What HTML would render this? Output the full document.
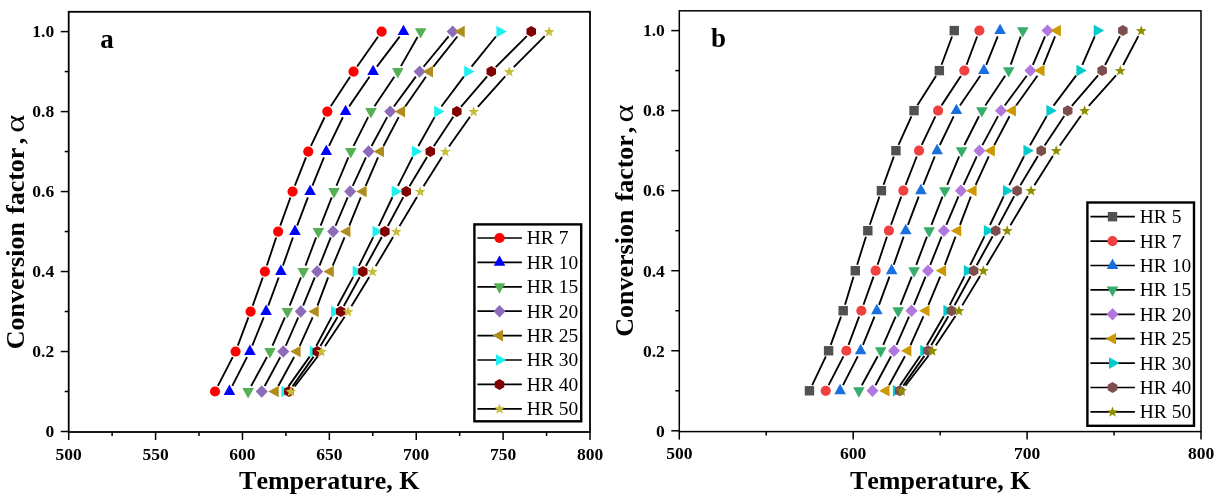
<!DOCTYPE html>
<html><head><meta charset="utf-8"><title>chart</title>
<style>html,body{margin:0;padding:0;background:#fff}svg{display:block;will-change:transform}text{font-family:"Liberation Serif",serif;font-kerning:none}</style>
</head><body>
<svg width="1217" height="502" viewBox="0 0 1217 502">
<rect width="1217" height="502" fill="#fff"/>
<path d="M377.99 36.76L357.16 66.43M350.08 76.86L330.76 106.31M324.6 117.27L310.97 145.88M305.96 157.43L294.87 185.7M290.43 197.49L280.27 225.62M276.15 237.53L266.87 265.56M262.77 277.47L252.72 305.6M248.39 317.43L237.82 345.62M232.72 357.12L217.9 385.91" stroke="#000" stroke-width="1.85" fill="none"/>
<circle cx="381.61" cy="31.6" r="5.1" fill="#ff0000"/>
<circle cx="353.54" cy="71.59" r="5.1" fill="#ff0000"/>
<circle cx="327.3" cy="111.58" r="5.1" fill="#ff0000"/>
<circle cx="308.26" cy="151.57" r="5.1" fill="#ff0000"/>
<circle cx="292.57" cy="191.56" r="5.1" fill="#ff0000"/>
<circle cx="278.13" cy="231.55" r="5.1" fill="#ff0000"/>
<circle cx="264.89" cy="271.54" r="5.1" fill="#ff0000"/>
<circle cx="250.6" cy="311.53" r="5.1" fill="#ff0000"/>
<circle cx="235.61" cy="351.52" r="5.1" fill="#ff0000"/>
<circle cx="215.02" cy="391.51" r="5.1" fill="#ff0000"/>
<path d="M399.67 36.61L376.89 66.58M369.51 76.78L349.16 106.39M342.86 117.25L329.04 145.9M323.94 157.41L312.48 185.72M307.88 197.45L297.2 225.66M292.88 237.49L282.97 265.6M278.69 277.45L268.27 305.62M263.72 317.37L252.26 345.68M247.02 357.13L232.28 385.9" stroke="#000" stroke-width="1.85" fill="none"/>
<polygon points="403.49,24.67 409.29,35.07 397.69,35.07" fill="#0000ff"/>
<polygon points="373.08,64.66 378.88,75.06 367.28,75.06" fill="#0000ff"/>
<polygon points="345.59,104.65 351.39,115.05 339.79,115.05" fill="#0000ff"/>
<polygon points="326.3,144.64 332.1,155.04 320.5,155.04" fill="#0000ff"/>
<polygon points="310.11,184.63 315.91,195.03 304.31,195.03" fill="#0000ff"/>
<polygon points="294.97,224.62 300.77,235.02 289.17,235.02" fill="#0000ff"/>
<polygon points="280.88,264.61 286.68,275.01 275.08,275.01" fill="#0000ff"/>
<polygon points="266.09,304.6 271.89,315 260.29,315" fill="#0000ff"/>
<polygon points="249.9,344.59 255.7,354.99 244.1,354.99" fill="#0000ff"/>
<polygon points="229.41,384.58 235.21,394.98 223.61,394.98" fill="#0000ff"/>
<path d="M417.54 37.07L400.94 66.12M394.3 76.82L374.49 106.35M368.14 117.2L353.63 145.95M348.35 157.38L336.44 185.75M331.71 197.43L320.65 225.68M316.13 237.44L305.49 265.65M300.94 277.39L289.7 305.68M284.86 317.31L272.5 345.74M266.96 357.05L251.12 385.98" stroke="#000" stroke-width="1.85" fill="none"/>
<polygon points="420.67,38.53 426.47,28.13 414.87,28.13" fill="#55b055"/>
<polygon points="397.81,78.52 403.61,68.12 392.01,68.12" fill="#55b055"/>
<polygon points="370.98,118.51 376.78,108.11 365.18,108.11" fill="#55b055"/>
<polygon points="350.79,158.5 356.59,148.1 344.99,148.1" fill="#55b055"/>
<polygon points="334,198.49 339.8,188.09 328.2,188.09" fill="#55b055"/>
<polygon points="318.36,238.48 324.16,228.08 312.56,228.08" fill="#55b055"/>
<polygon points="303.27,278.47 309.07,268.07 297.47,268.07" fill="#55b055"/>
<polygon points="287.38,318.46 293.18,308.06 281.58,308.06" fill="#55b055"/>
<polygon points="269.99,358.45 275.79,348.05 264.19,348.05" fill="#55b055"/>
<polygon points="248.1,398.44 253.9,388.04 242.3,388.04" fill="#55b055"/>
<path d="M448.62 36.45L423.57 66.74M415.82 76.67L393.9 106.5M387.18 117.12L371.57 146.03M365.94 157.29L352.78 185.84M347.67 197.36L335.57 225.75M330.77 237.4L319.49 265.69M314.77 277.37L303.16 305.7M298.24 317.3L285.8 345.75M280.29 357.07L264.73 385.96" stroke="#000" stroke-width="1.85" fill="none"/>
<polygon points="452.64,25.4 458.64,31.6 452.64,37.8 446.64,31.6" fill="#8c6bb8"/>
<polygon points="419.55,65.39 425.55,71.59 419.55,77.79 413.55,71.59" fill="#8c6bb8"/>
<polygon points="390.17,105.38 396.17,111.58 390.17,117.78 384.17,111.58" fill="#8c6bb8"/>
<polygon points="368.58,145.37 374.58,151.57 368.58,157.77 362.58,151.57" fill="#8c6bb8"/>
<polygon points="350.14,185.36 356.14,191.56 350.14,197.76 344.14,191.56" fill="#8c6bb8"/>
<polygon points="333.1,225.35 339.1,231.55 333.1,237.75 327.1,231.55" fill="#8c6bb8"/>
<polygon points="317.16,265.34 323.16,271.54 317.16,277.74 311.16,271.54" fill="#8c6bb8"/>
<polygon points="300.77,305.33 306.77,311.53 300.77,317.73 294.77,311.53" fill="#8c6bb8"/>
<polygon points="283.28,345.32 289.28,351.52 283.28,357.72 277.28,351.52" fill="#8c6bb8"/>
<polygon points="261.74,385.31 267.74,391.51 261.74,397.71 255.74,391.51" fill="#8c6bb8"/>
<path d="M457.36 36.53L433.45 66.66M425.93 76.76L405.24 106.41M398.7 117.15L383.48 146M378.03 157.35L365.66 185.78M360.78 197.4L349.31 225.71M344.53 237.37L332.77 265.72M328.13 277.43L317.48 305.64M312.66 317.27L299.75 345.78M294.13 357.05L278.29 385.98" stroke="#000" stroke-width="1.85" fill="none"/>
<polygon points="454.34,31.6 464.74,25.8 464.74,37.4" fill="#b08c1e"/>
<polygon points="422.6,71.59 433,65.79 433,77.39" fill="#b08c1e"/>
<polygon points="394.7,111.58 405.1,105.78 405.1,117.38" fill="#b08c1e"/>
<polygon points="373.61,151.57 384.01,145.77 384.01,157.37" fill="#b08c1e"/>
<polygon points="356.21,191.56 366.61,185.76 366.61,197.36" fill="#b08c1e"/>
<polygon points="340.01,231.55 350.41,225.75 350.41,237.35" fill="#b08c1e"/>
<polygon points="323.42,271.54 333.82,265.74 333.82,277.34" fill="#b08c1e"/>
<polygon points="308.32,311.53 318.72,305.73 318.72,317.33" fill="#b08c1e"/>
<polygon points="290.22,351.52 300.62,345.72 300.62,357.32" fill="#b08c1e"/>
<polygon points="268.33,391.51 278.73,385.71 278.73,397.31" fill="#b08c1e"/>
<path d="M495.92 36.5L471.58 66.69M463.84 76.63L441.41 106.54M434.56 117.08L418.4 146.07M412.49 157.19L397.98 185.94M392.42 197.25L378.76 225.86M373.23 237.19L358.95 265.9M353.15 277.08L337.54 305.99M331.6 317.1L316.3 345.95M309.7 356.65L288.51 386.38" stroke="#000" stroke-width="1.85" fill="none"/>
<polygon points="506.81,31.6 496.41,25.8 496.41,37.4" fill="#1ef0f0"/>
<polygon points="474.56,71.59 464.16,65.79 464.16,77.39" fill="#1ef0f0"/>
<polygon points="444.56,111.58 434.16,105.78 434.16,117.38" fill="#1ef0f0"/>
<polygon points="422.27,151.57 411.87,145.77 411.87,157.37" fill="#1ef0f0"/>
<polygon points="402.07,191.56 391.67,185.76 391.67,197.36" fill="#1ef0f0"/>
<polygon points="382.97,231.55 372.57,225.75 372.57,237.35" fill="#1ef0f0"/>
<polygon points="363.08,271.54 352.68,265.74 352.68,277.34" fill="#1ef0f0"/>
<polygon points="341.48,311.53 331.08,305.73 331.08,317.33" fill="#1ef0f0"/>
<polygon points="320.29,351.52 309.89,345.72 309.89,357.32" fill="#1ef0f0"/>
<polygon points="291.79,391.51 281.39,385.71 281.39,397.31" fill="#1ef0f0"/>
<path d="M526.81 36.05L495.72 67.14M487.15 76.36L460.94 106.81M453.35 116.83L433.78 146.32M427.05 156.97L409.5 186.16M403.29 197.12L387.84 225.99M381.83 237.07L365.87 266.02M359.79 277.05L343.79 306.02M337.56 316.96L320.45 346.09M313.61 356.66L292.52 386.37" stroke="#000" stroke-width="1.85" fill="none"/>
<polygon points="531.27,26.1 536.03,28.85 536.03,34.35 531.27,37.1 526.5,34.35 526.5,28.85" fill="#800000"/>
<polygon points="491.26,66.09 496.02,68.84 496.02,74.34 491.26,77.09 486.5,74.34 486.5,68.84" fill="#800000"/>
<polygon points="456.83,106.08 461.59,108.83 461.59,114.33 456.83,117.08 452.07,114.33 452.07,108.83" fill="#800000"/>
<polygon points="430.3,146.07 435.06,148.82 435.06,154.32 430.3,157.07 425.53,154.32 425.53,148.82" fill="#800000"/>
<polygon points="406.26,186.06 411.02,188.81 411.02,194.31 406.26,197.06 401.5,194.31 401.5,188.81" fill="#800000"/>
<polygon points="384.87,226.05 389.63,228.8 389.63,234.3 384.87,237.05 380.11,234.3 380.11,228.8" fill="#800000"/>
<polygon points="362.83,266.04 367.6,268.79 367.6,274.29 362.83,277.04 358.07,274.29 358.07,268.79" fill="#800000"/>
<polygon points="340.75,306.03 345.51,308.78 345.51,314.28 340.75,317.03 335.98,314.28 335.98,308.78" fill="#800000"/>
<polygon points="317.26,346.02 322.02,348.77 322.02,354.27 317.26,357.02 312.5,354.27 312.5,348.77" fill="#800000"/>
<polygon points="288.88,386.01 293.64,388.76 293.64,394.26 288.88,397.01 284.11,394.26 284.11,388.76" fill="#800000"/>
<path d="M544.7 36.07L513.79 67.12M505.16 76.29L477.87 106.88M470.03 116.72L448.98 146.43M441.98 156.9L423.55 186.23M416.97 196.97L399.55 226.14M393.09 236.96L375.75 266.13M369.25 276.92L351.42 306.15M344.64 316.77L324.95 346.28M317.63 356.52L294.7 386.51" stroke="#000" stroke-width="1.85" fill="none"/>
<polygon points="549.15,26.2 550.56,29.96 554.57,30.14 551.43,32.64 552.5,36.51 549.15,34.29 545.8,36.51 546.87,32.64 543.73,30.14 547.74,29.96" fill="#c8be3c"/>
<polygon points="509.35,66.19 510.76,69.95 514.77,70.13 511.63,72.63 512.7,76.5 509.35,74.28 506,76.5 507.07,72.63 503.93,70.13 507.94,69.95" fill="#c8be3c"/>
<polygon points="473.67,106.18 475.08,109.94 479.09,110.12 475.95,112.62 477.02,116.49 473.67,114.27 470.32,116.49 471.39,112.62 468.25,110.12 472.26,109.94" fill="#c8be3c"/>
<polygon points="445.34,146.17 446.74,149.93 450.76,150.11 447.61,152.61 448.69,156.48 445.34,154.26 441.99,156.48 443.06,152.61 439.92,150.11 443.93,149.93" fill="#c8be3c"/>
<polygon points="420.2,186.16 421.61,189.92 425.62,190.1 422.48,192.6 423.55,196.47 420.2,194.25 416.85,196.47 417.92,192.6 414.78,190.1 418.79,189.92" fill="#c8be3c"/>
<polygon points="396.31,226.15 397.72,229.91 401.74,230.09 398.59,232.59 399.67,236.46 396.31,234.24 392.96,236.46 394.04,232.59 390.89,230.09 394.91,229.91" fill="#c8be3c"/>
<polygon points="372.53,266.14 373.94,269.9 377.95,270.08 374.8,272.58 375.88,276.45 372.53,274.23 369.18,276.45 370.25,272.58 367.11,270.08 371.12,269.9" fill="#c8be3c"/>
<polygon points="348.14,306.13 349.55,309.89 353.56,310.07 350.42,312.57 351.49,316.44 348.14,314.22 344.79,316.44 345.87,312.57 342.72,310.07 346.73,309.89" fill="#c8be3c"/>
<polygon points="321.46,346.12 322.86,349.88 326.88,350.06 323.73,352.56 324.81,356.43 321.46,354.21 318.11,356.43 319.18,352.56 316.04,350.06 320.05,349.88" fill="#c8be3c"/>
<polygon points="290.87,386.11 292.28,389.87 296.3,390.05 293.15,392.55 294.22,396.42 290.87,394.2 287.52,396.42 288.6,392.55 285.45,390.05 289.47,389.87" fill="#c8be3c"/>
<rect x="68.7" y="11.8" width="521.3" height="420.2" fill="none" stroke="#000" stroke-width="1.8"/>
<g stroke="#000" stroke-width="1.5">
<path d="M60.7 431.5H68.7"/>
<path d="M64.7 391.51H68.7"/>
<path d="M60.7 351.52H68.7"/>
<path d="M64.7 311.53H68.7"/>
<path d="M60.7 271.54H68.7"/>
<path d="M64.7 231.55H68.7"/>
<path d="M60.7 191.56H68.7"/>
<path d="M64.7 151.57H68.7"/>
<path d="M60.7 111.58H68.7"/>
<path d="M64.7 71.59H68.7"/>
<path d="M60.7 31.6H68.7"/>
<path d="M68.7 432V440"/>
<path d="M155.58 432V440"/>
<path d="M242.47 432V440"/>
<path d="M329.35 432V440"/>
<path d="M416.23 432V440"/>
<path d="M503.12 432V440"/>
<path d="M590 432V440"/>
<path d="M112.14 432V436"/>
<path d="M199.02 432V436"/>
<path d="M285.91 432V436"/>
<path d="M372.79 432V436"/>
<path d="M459.67 432V436"/>
<path d="M546.56 432V436"/>
</g>
<g font-family="'Liberation Serif', serif" font-weight="bold" font-size="17.5" fill="#000">
<text x="54.2" y="437.3" text-anchor="end">0</text>
<text x="54.2" y="357.32" text-anchor="end">0.2</text>
<text x="54.2" y="277.34" text-anchor="end">0.4</text>
<text x="54.2" y="197.36" text-anchor="end">0.6</text>
<text x="54.2" y="117.38" text-anchor="end">0.8</text>
<text x="54.2" y="37.4" text-anchor="end">1.0</text>
<text x="68.7" y="459.6" text-anchor="middle">500</text>
<text x="155.58" y="459.6" text-anchor="middle">550</text>
<text x="242.47" y="459.6" text-anchor="middle">600</text>
<text x="329.35" y="459.6" text-anchor="middle">650</text>
<text x="416.23" y="459.6" text-anchor="middle">700</text>
<text x="503.12" y="459.6" text-anchor="middle">750</text>
<text x="590" y="459.6" text-anchor="middle">800</text>
</g>
<text x="329.35" y="489.3" text-anchor="middle" font-family="'Liberation Serif', serif" font-weight="bold" font-size="26" fill="#000">Temperature, K</text>
<g transform="translate(24.2 349.2) rotate(-90)" font-family="'Liberation Serif', serif" font-weight="bold" font-size="26" fill="#000">
<text x="0" y="0">Conversion</text>
<text x="135.2" y="0">factor</text>
<text x="204.9" y="0">,</text>
<text transform="translate(216.4 0) scale(1.27 1)" x="0" y="0" font-weight="normal" font-size="27">α</text>
</g>
<text x="100.3" y="47.6" font-family="'Liberation Serif', serif" font-weight="bold" font-size="27" fill="#000">a</text>
<rect x="474.4" y="224.4" width="106.8" height="196.9" fill="#fff" stroke="#000" stroke-width="2.4"/>
<path d="M477.4 238H521.9" stroke="#000" stroke-width="1.7"/>
<circle cx="499.5" cy="238" r="5.1" fill="#ff0000"/>
<text transform="translate(526.8 244.4) scale(1.025 1)" font-family="'Liberation Serif', serif" font-size="19" fill="#000">HR 7</text>
<path d="M477.4 262.4H521.9" stroke="#000" stroke-width="1.7"/>
<polygon points="499.5,255.47 505.3,265.87 493.7,265.87" fill="#0000ff"/>
<text transform="translate(526.8 268.8) scale(1.025 1)" font-family="'Liberation Serif', serif" font-size="19" fill="#000">HR 10</text>
<path d="M477.4 286.8H521.9" stroke="#000" stroke-width="1.7"/>
<polygon points="499.5,293.73 505.3,283.33 493.7,283.33" fill="#55b055"/>
<text transform="translate(526.8 293.2) scale(1.025 1)" font-family="'Liberation Serif', serif" font-size="19" fill="#000">HR 15</text>
<path d="M477.4 311.2H521.9" stroke="#000" stroke-width="1.7"/>
<polygon points="499.5,305 505.5,311.2 499.5,317.4 493.5,311.2" fill="#8c6bb8"/>
<text transform="translate(526.8 317.6) scale(1.025 1)" font-family="'Liberation Serif', serif" font-size="19" fill="#000">HR 20</text>
<path d="M477.4 335.6H521.9" stroke="#000" stroke-width="1.7"/>
<polygon points="492.57,335.6 502.97,329.8 502.97,341.4" fill="#b08c1e"/>
<text transform="translate(526.8 342) scale(1.025 1)" font-family="'Liberation Serif', serif" font-size="19" fill="#000">HR 25</text>
<path d="M477.4 360H521.9" stroke="#000" stroke-width="1.7"/>
<polygon points="506.43,360 496.03,354.2 496.03,365.8" fill="#1ef0f0"/>
<text transform="translate(526.8 366.4) scale(1.025 1)" font-family="'Liberation Serif', serif" font-size="19" fill="#000">HR 30</text>
<path d="M477.4 384.4H521.9" stroke="#000" stroke-width="1.7"/>
<polygon points="499.5,378.9 504.26,381.65 504.26,387.15 499.5,389.9 494.74,387.15 494.74,381.65" fill="#800000"/>
<text transform="translate(526.8 390.8) scale(1.025 1)" font-family="'Liberation Serif', serif" font-size="19" fill="#000">HR 40</text>
<path d="M477.4 408.8H521.9" stroke="#000" stroke-width="1.7"/>
<polygon points="499.5,403.4 500.91,407.16 504.92,407.34 501.78,409.84 502.85,413.71 499.5,411.49 496.15,413.71 497.22,409.84 494.08,407.34 498.09,407.16" fill="#c8be3c"/>
<text transform="translate(526.8 415.2) scale(1.025 1)" font-family="'Liberation Serif', serif" font-size="19" fill="#000">HR 50</text>
<path d="M952.06 36.5L941.55 64.72M935.98 75.94L917.4 105.32M911.44 116.38L898.52 144.92M893.78 156.58L883.56 184.76M879.39 196.64L869.84 224.74M865.93 236.71L857.18 264.71M853.48 276.75L845.02 304.71M841.03 316.66L830.75 344.84M825.87 356.45L812.19 385.09" stroke="#000" stroke-width="1.85" fill="none"/>
<rect x="949.56" y="25.9" width="9.4" height="9.4" fill="#515151"/>
<rect x="934.65" y="65.92" width="9.4" height="9.4" fill="#515151"/>
<rect x="909.33" y="105.94" width="9.4" height="9.4" fill="#515151"/>
<rect x="891.22" y="145.96" width="9.4" height="9.4" fill="#515151"/>
<rect x="876.72" y="185.98" width="9.4" height="9.4" fill="#515151"/>
<rect x="863.11" y="226" width="9.4" height="9.4" fill="#515151"/>
<rect x="850.6" y="266.02" width="9.4" height="9.4" fill="#515151"/>
<rect x="838.49" y="306.04" width="9.4" height="9.4" fill="#515151"/>
<rect x="823.89" y="346.06" width="9.4" height="9.4" fill="#515151"/>
<rect x="804.77" y="386.08" width="9.4" height="9.4" fill="#515151"/>
<path d="M977.16 36.5L966.57 64.72M960.9 75.89L941.56 105.37M935.39 116.33L921.76 144.97M916.75 156.52L905.65 184.82M901.21 196.61L891.03 224.77M886.91 236.68L877.62 264.74M873.52 276.65L863.46 304.81M859.13 316.64L848.55 344.86M843.45 356.36L828.61 385.18" stroke="#000" stroke-width="1.85" fill="none"/>
<circle cx="979.37" cy="30.6" r="5.1" fill="#f14040"/>
<circle cx="964.36" cy="70.62" r="5.1" fill="#f14040"/>
<circle cx="938.1" cy="110.64" r="5.1" fill="#f14040"/>
<circle cx="919.05" cy="150.66" r="5.1" fill="#f14040"/>
<circle cx="903.35" cy="190.68" r="5.1" fill="#f14040"/>
<circle cx="888.89" cy="230.7" r="5.1" fill="#f14040"/>
<circle cx="875.64" cy="270.72" r="5.1" fill="#f14040"/>
<circle cx="861.34" cy="310.74" r="5.1" fill="#f14040"/>
<circle cx="846.33" cy="350.76" r="5.1" fill="#f14040"/>
<circle cx="825.73" cy="390.78" r="5.1" fill="#f14040"/>
<path d="M997.72 36.44L986.27 64.78M980.34 75.81L959.97 105.45M953.67 116.31L939.84 144.99M934.74 156.5L923.26 184.84M918.67 196.57L907.98 224.81M903.65 236.64L893.74 264.78M889.46 276.63L879.03 304.83M874.48 316.58L863 344.92M857.76 356.37L843.01 385.17" stroke="#000" stroke-width="1.85" fill="none"/>
<polygon points="1000.08,23.67 1005.88,34.07 994.28,34.07" fill="#1a6fdf"/>
<polygon points="983.91,63.69 989.71,74.09 978.11,74.09" fill="#1a6fdf"/>
<polygon points="956.41,103.71 962.21,114.11 950.61,114.11" fill="#1a6fdf"/>
<polygon points="937.1,143.73 942.9,154.13 931.3,154.13" fill="#1a6fdf"/>
<polygon points="920.9,183.75 926.7,194.15 915.1,194.15" fill="#1a6fdf"/>
<polygon points="905.75,223.77 911.55,234.17 899.95,234.17" fill="#1a6fdf"/>
<polygon points="891.64,263.79 897.44,274.19 885.84,274.19" fill="#1a6fdf"/>
<polygon points="876.84,303.81 882.64,314.21 871.04,314.21" fill="#1a6fdf"/>
<polygon points="860.64,343.83 866.44,354.23 854.84,354.23" fill="#1a6fdf"/>
<polygon points="840.13,383.85 845.93,394.25 834.33,394.25" fill="#1a6fdf"/>
<path d="M1020.7 36.54L1010.76 64.68M1005.16 75.85L985.32 105.41M978.97 116.26L964.45 145.04M959.17 156.47L947.24 184.87M942.51 196.55L931.45 224.83M926.93 236.59L916.27 264.83M911.72 276.57L900.47 304.89M895.63 316.52L883.25 344.98M877.72 356.29L861.86 385.25" stroke="#000" stroke-width="1.85" fill="none"/>
<polygon points="1022.8,37.53 1028.6,27.13 1017,27.13" fill="#37ad6b"/>
<polygon points="1008.67,77.55 1014.47,67.15 1002.87,67.15" fill="#37ad6b"/>
<polygon points="981.81,117.57 987.61,107.17 976.01,107.17" fill="#37ad6b"/>
<polygon points="961.61,157.59 967.41,147.19 955.81,147.19" fill="#37ad6b"/>
<polygon points="944.8,197.61 950.6,187.21 939,187.21" fill="#37ad6b"/>
<polygon points="929.15,237.63 934.95,227.23 923.35,227.23" fill="#37ad6b"/>
<polygon points="914.05,277.65 919.85,267.25 908.25,267.25" fill="#37ad6b"/>
<polygon points="898.14,317.67 903.94,307.27 892.34,307.27" fill="#37ad6b"/>
<polygon points="880.74,357.69 886.54,347.29 874.94,347.29" fill="#37ad6b"/>
<polygon points="858.84,397.71 864.64,387.31 853.04,387.31" fill="#37ad6b"/>
<path d="M1045.04 36.39L1032.9 64.83M1026.69 75.7L1004.75 105.56M998.02 116.18L982.4 145.12M976.77 156.38L963.59 184.96M958.49 196.48L946.37 224.9M941.57 236.55L930.28 264.87M925.56 276.55L913.94 304.91M909.02 316.51L896.57 344.99M891.06 356.31L875.48 385.23" stroke="#000" stroke-width="1.85" fill="none"/>
<polygon points="1047.51,24.4 1053.51,30.6 1047.51,36.8 1041.51,30.6" fill="#b177de"/>
<polygon points="1030.42,64.42 1036.42,70.62 1030.42,76.82 1024.42,70.62" fill="#b177de"/>
<polygon points="1001.01,104.44 1007.01,110.64 1001.01,116.84 995.01,110.64" fill="#b177de"/>
<polygon points="979.41,144.46 985.41,150.66 979.41,156.86 973.41,150.66" fill="#b177de"/>
<polygon points="960.96,184.48 966.96,190.68 960.96,196.88 954.96,190.68" fill="#b177de"/>
<polygon points="943.9,224.5 949.9,230.7 943.9,236.9 937.9,230.7" fill="#b177de"/>
<polygon points="927.95,264.52 933.95,270.72 927.95,276.92 921.95,270.72" fill="#b177de"/>
<polygon points="911.55,304.54 917.55,310.74 911.55,316.94 905.55,310.74" fill="#b177de"/>
<polygon points="894.04,344.56 900.04,350.76 894.04,356.96 888.04,350.76" fill="#b177de"/>
<polygon points="872.49,384.58 878.49,390.78 872.49,396.98 866.49,390.78" fill="#b177de"/>
<path d="M1055.04 36.43L1043.49 64.79M1037.44 75.74L1016.16 105.52M1009.55 116.21L994.32 145.09M988.76 156.39L975.69 184.95M970.82 196.56L960.01 224.82M955.53 236.59L944.88 264.83M940.24 276.54L928.46 304.92M923.44 316.48L910.53 345.02M904.91 356.29L889.04 385.25" stroke="#000" stroke-width="1.85" fill="none"/>
<polygon points="1050.48,30.6 1060.88,24.8 1060.88,36.4" fill="#cc9900"/>
<polygon points="1034.17,70.62 1044.57,64.82 1044.57,76.42" fill="#cc9900"/>
<polygon points="1005.56,110.64 1015.96,104.84 1015.96,116.44" fill="#cc9900"/>
<polygon points="984.45,150.66 994.85,144.86 994.85,156.46" fill="#cc9900"/>
<polygon points="966.14,190.68 976.54,184.88 976.54,196.48" fill="#cc9900"/>
<polygon points="950.83,230.7 961.23,224.9 961.23,236.5" fill="#cc9900"/>
<polygon points="935.72,270.72 946.12,264.92 946.12,276.52" fill="#cc9900"/>
<polygon points="919.11,310.74 929.51,304.94 929.51,316.54" fill="#cc9900"/>
<polygon points="901,350.76 911.4,344.96 911.4,356.56" fill="#cc9900"/>
<polygon points="879.09,390.78 889.49,384.98 889.49,396.58" fill="#cc9900"/>
<path d="M1094.73 36.38L1082.34 64.84M1076.05 75.66L1053.59 105.6M1046.68 116.11L1030.03 145.19M1024.03 156.27L1009.26 185.07M1003.67 196.37L989.99 225.01M984.47 236.34L970.17 265.08M964.49 276.33L949.73 305.13M943.7 316.2L926.89 345.3M920.19 355.96L899.98 385.58" stroke="#000" stroke-width="1.85" fill="none"/>
<polygon points="1104.17,30.6 1093.77,24.8 1093.77,36.4" fill="#00cbcc"/>
<polygon points="1086.76,70.62 1076.36,64.82 1076.36,76.42" fill="#00cbcc"/>
<polygon points="1056.75,110.64 1046.35,104.84 1046.35,116.44" fill="#00cbcc"/>
<polygon points="1033.83,150.66 1023.43,144.86 1023.43,156.46" fill="#00cbcc"/>
<polygon points="1013.32,190.68 1002.92,184.88 1002.92,196.48" fill="#00cbcc"/>
<polygon points="994.21,230.7 983.81,224.9 983.81,236.5" fill="#00cbcc"/>
<polygon points="974.3,270.72 963.9,264.92 963.9,276.52" fill="#00cbcc"/>
<polygon points="953.79,310.74 943.39,304.94 943.39,316.54" fill="#00cbcc"/>
<polygon points="930.67,350.76 920.27,344.96 920.27,356.56" fill="#00cbcc"/>
<polygon points="903.36,390.78 892.96,384.98 892.96,396.58" fill="#00cbcc"/>
<path d="M1119.96 36.2L1105.08 65.02M1098.07 75.39L1071.84 105.87M1064.24 115.89L1044.66 145.41M1037.93 156.06L1020.36 185.28M1014.15 196.24L998.68 225.14M992.67 236.22L976.7 265.2M970.61 276.23L954.6 305.23M948.36 316.17L931.24 345.33M924.4 355.9L903.29 385.64" stroke="#000" stroke-width="1.85" fill="none"/>
<polygon points="1122.86,25.1 1127.62,27.85 1127.62,33.35 1122.86,36.1 1118.09,33.35 1118.09,27.85" fill="#7d4e4e"/>
<polygon points="1102.19,65.12 1106.95,67.87 1106.95,73.37 1102.19,76.12 1097.42,73.37 1097.42,67.87" fill="#7d4e4e"/>
<polygon points="1067.73,105.14 1072.49,107.89 1072.49,113.39 1067.73,116.14 1062.97,113.39 1062.97,107.89" fill="#7d4e4e"/>
<polygon points="1041.17,145.16 1045.94,147.91 1045.94,153.41 1041.17,156.16 1036.41,153.41 1036.41,147.91" fill="#7d4e4e"/>
<polygon points="1017.12,185.18 1021.88,187.93 1021.88,193.43 1017.12,196.18 1012.35,193.43 1012.35,187.93" fill="#7d4e4e"/>
<polygon points="995.71,225.2 1000.48,227.95 1000.48,233.45 995.71,236.2 990.95,233.45 990.95,227.95" fill="#7d4e4e"/>
<polygon points="973.66,265.22 978.42,267.97 978.42,273.47 973.66,276.22 968.9,273.47 968.9,267.97" fill="#7d4e4e"/>
<polygon points="951.55,305.24 956.32,307.99 956.32,313.49 951.55,316.24 946.79,313.49 946.79,307.99" fill="#7d4e4e"/>
<polygon points="928.05,345.26 932.81,348.01 932.81,353.51 928.05,356.26 923.29,353.51 923.29,348.01" fill="#7d4e4e"/>
<polygon points="899.64,385.28 904.41,388.03 904.41,393.53 899.64,396.28 894.88,393.53 894.88,388.03" fill="#7d4e4e"/>
<path d="M1138.34 36.18L1123.21 65.04M1116.09 75.32L1088.78 105.94M1080.94 115.78L1059.87 145.52M1052.87 155.99L1034.42 185.35M1027.84 196.09L1010.4 225.29M1003.95 236.11L986.58 265.31M980.08 276.1L962.24 305.36M955.46 315.98L935.75 345.52M928.42 355.76L905.47 385.78" stroke="#000" stroke-width="1.85" fill="none"/>
<polygon points="1141.27,25.2 1142.67,28.96 1146.69,29.14 1143.54,31.64 1144.62,35.51 1141.27,33.29 1137.92,35.51 1138.99,31.64 1135.84,29.14 1139.86,28.96" fill="#8e8e00"/>
<polygon points="1120.29,65.22 1121.7,68.98 1125.71,69.16 1122.57,71.66 1123.64,75.53 1120.29,73.31 1116.94,75.53 1118.01,71.66 1114.87,69.16 1118.88,68.98" fill="#8e8e00"/>
<polygon points="1084.58,105.24 1085.99,109 1090,109.18 1086.86,111.68 1087.93,115.55 1084.58,113.33 1081.23,115.55 1082.3,111.68 1079.16,109.18 1083.17,109" fill="#8e8e00"/>
<polygon points="1056.23,145.26 1057.63,149.02 1061.65,149.2 1058.5,151.7 1059.58,155.57 1056.23,153.35 1052.88,155.57 1053.95,151.7 1050.8,149.2 1054.82,149.02" fill="#8e8e00"/>
<polygon points="1031.07,185.28 1032.48,189.04 1036.49,189.22 1033.35,191.72 1034.42,195.59 1031.07,193.37 1027.72,195.59 1028.79,191.72 1025.65,189.22 1029.66,189.04" fill="#8e8e00"/>
<polygon points="1007.17,225.3 1008.57,229.06 1012.59,229.24 1009.44,231.74 1010.52,235.61 1007.17,233.39 1003.82,235.61 1004.89,231.74 1001.75,229.24 1005.76,229.06" fill="#8e8e00"/>
<polygon points="983.36,265.32 984.77,269.08 988.78,269.26 985.64,271.76 986.71,275.63 983.36,273.41 980.01,275.63 981.08,271.76 977.94,269.26 981.95,269.08" fill="#8e8e00"/>
<polygon points="958.96,305.34 960.36,309.1 964.38,309.28 961.23,311.78 962.31,315.65 958.96,313.43 955.61,315.65 956.68,311.78 953.54,309.28 957.55,309.1" fill="#8e8e00"/>
<polygon points="932.25,345.36 933.66,349.12 937.67,349.3 934.53,351.8 935.6,355.67 932.25,353.45 928.9,355.67 929.97,351.8 926.83,349.3 930.84,349.12" fill="#8e8e00"/>
<polygon points="901.64,385.38 903.05,389.14 907.07,389.32 903.92,391.82 905,395.69 901.64,393.47 898.29,395.69 899.37,391.82 896.22,389.32 900.24,389.14" fill="#8e8e00"/>
<rect x="679.3" y="10.8" width="521.7" height="420.8" fill="none" stroke="#000" stroke-width="1.5"/>
<g stroke="#000" stroke-width="1.5">
<path d="M671.3 430.8H679.3"/>
<path d="M675.3 390.78H679.3"/>
<path d="M671.3 350.76H679.3"/>
<path d="M675.3 310.74H679.3"/>
<path d="M671.3 270.72H679.3"/>
<path d="M675.3 230.7H679.3"/>
<path d="M671.3 190.68H679.3"/>
<path d="M675.3 150.66H679.3"/>
<path d="M671.3 110.64H679.3"/>
<path d="M675.3 70.62H679.3"/>
<path d="M671.3 30.6H679.3"/>
<path d="M679.3 431.6V439.6"/>
<path d="M853.2 431.6V439.6"/>
<path d="M1027.1 431.6V439.6"/>
<path d="M1201 431.6V439.6"/>
<path d="M766.25 431.6V435.6"/>
<path d="M940.15 431.6V435.6"/>
<path d="M1114.05 431.6V435.6"/>
</g>
<g font-family="'Liberation Serif', serif" font-weight="bold" font-size="17.5" fill="#000">
<text x="664.8" y="436.6" text-anchor="end">0</text>
<text x="664.8" y="356.56" text-anchor="end">0.2</text>
<text x="664.8" y="276.52" text-anchor="end">0.4</text>
<text x="664.8" y="196.48" text-anchor="end">0.6</text>
<text x="664.8" y="116.44" text-anchor="end">0.8</text>
<text x="664.8" y="36.4" text-anchor="end">1.0</text>
<text x="679.3" y="459.2" text-anchor="middle">500</text>
<text x="853.2" y="459.2" text-anchor="middle">600</text>
<text x="1027.1" y="459.2" text-anchor="middle">700</text>
<text x="1201" y="459.2" text-anchor="middle">800</text>
</g>
<text x="940.15" y="489.3" text-anchor="middle" font-family="'Liberation Serif', serif" font-weight="bold" font-size="26" fill="#000">Temperature, K</text>
<g transform="translate(633 336.7) rotate(-90)" font-family="'Liberation Serif', serif" font-weight="bold" font-size="26" fill="#000">
<text x="0" y="0">Conversion</text>
<text x="135.2" y="0">factor</text>
<text x="203.4" y="0">,</text>
<text transform="translate(214.2 0) scale(1.27 1)" x="0" y="0" font-weight="normal" font-size="27">α</text>
</g>
<text x="711" y="47" font-family="'Liberation Serif', serif" font-weight="bold" font-size="27" fill="#000">b</text>
<rect x="1087.4" y="202.5" width="106.6" height="223.3" fill="#fff" stroke="#000" stroke-width="2.4"/>
<path d="M1090.4 216.7H1134.9" stroke="#000" stroke-width="1.7"/>
<rect x="1107.8" y="212" width="9.4" height="9.4" fill="#515151"/>
<text transform="translate(1139.8 223.1) scale(1.025 1)" font-family="'Liberation Serif', serif" font-size="19" fill="#000">HR 5</text>
<path d="M1090.4 241.1H1134.9" stroke="#000" stroke-width="1.7"/>
<circle cx="1112.5" cy="241.1" r="5.1" fill="#f14040"/>
<text transform="translate(1139.8 247.5) scale(1.025 1)" font-family="'Liberation Serif', serif" font-size="19" fill="#000">HR 7</text>
<path d="M1090.4 265.5H1134.9" stroke="#000" stroke-width="1.7"/>
<polygon points="1112.5,258.57 1118.3,268.97 1106.7,268.97" fill="#1a6fdf"/>
<text transform="translate(1139.8 271.9) scale(1.025 1)" font-family="'Liberation Serif', serif" font-size="19" fill="#000">HR 10</text>
<path d="M1090.4 289.9H1134.9" stroke="#000" stroke-width="1.7"/>
<polygon points="1112.5,296.83 1118.3,286.43 1106.7,286.43" fill="#37ad6b"/>
<text transform="translate(1139.8 296.3) scale(1.025 1)" font-family="'Liberation Serif', serif" font-size="19" fill="#000">HR 15</text>
<path d="M1090.4 314.3H1134.9" stroke="#000" stroke-width="1.7"/>
<polygon points="1112.5,308.1 1118.5,314.3 1112.5,320.5 1106.5,314.3" fill="#b177de"/>
<text transform="translate(1139.8 320.7) scale(1.025 1)" font-family="'Liberation Serif', serif" font-size="19" fill="#000">HR 20</text>
<path d="M1090.4 338.7H1134.9" stroke="#000" stroke-width="1.7"/>
<polygon points="1105.57,338.7 1115.97,332.9 1115.97,344.5" fill="#cc9900"/>
<text transform="translate(1139.8 345.1) scale(1.025 1)" font-family="'Liberation Serif', serif" font-size="19" fill="#000">HR 25</text>
<path d="M1090.4 363.1H1134.9" stroke="#000" stroke-width="1.7"/>
<polygon points="1119.43,363.1 1109.03,357.3 1109.03,368.9" fill="#00cbcc"/>
<text transform="translate(1139.8 369.5) scale(1.025 1)" font-family="'Liberation Serif', serif" font-size="19" fill="#000">HR 30</text>
<path d="M1090.4 387.5H1134.9" stroke="#000" stroke-width="1.7"/>
<polygon points="1112.5,382 1117.26,384.75 1117.26,390.25 1112.5,393 1107.74,390.25 1107.74,384.75" fill="#7d4e4e"/>
<text transform="translate(1139.8 393.9) scale(1.025 1)" font-family="'Liberation Serif', serif" font-size="19" fill="#000">HR 40</text>
<path d="M1090.4 411.9H1134.9" stroke="#000" stroke-width="1.7"/>
<polygon points="1112.5,406.5 1113.91,410.26 1117.92,410.44 1114.78,412.94 1115.85,416.81 1112.5,414.59 1109.15,416.81 1110.22,412.94 1107.08,410.44 1111.09,410.26" fill="#8e8e00"/>
<text transform="translate(1139.8 418.3) scale(1.025 1)" font-family="'Liberation Serif', serif" font-size="19" fill="#000">HR 50</text>
</svg>
</body></html>
